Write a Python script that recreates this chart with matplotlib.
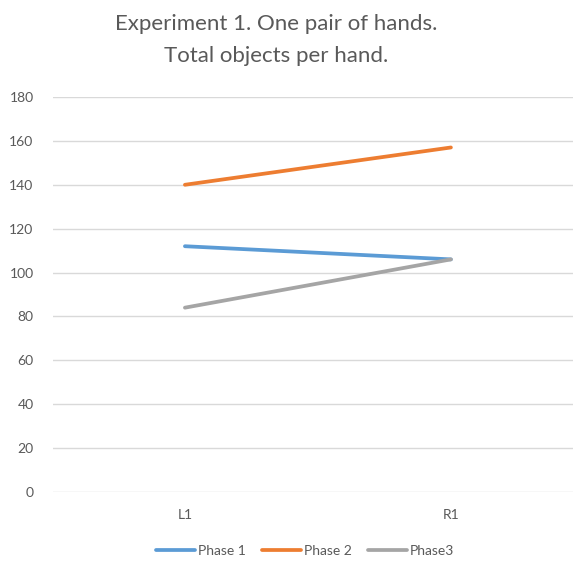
import matplotlib
matplotlib.use('Agg')
import matplotlib.pyplot as plt

categories = ['L1', 'R1']
phase1 = [112, 106]
phase2 = [140, 157]
phase3 = [84, 106]
series_names = ['Phase 1', 'Phase 2', 'Phase3']
yticks = [0, 20, 40, 60, 80, 100, 120, 140, 160, 180]

plt.rcParams['font.family'] = ['Lato', 'DejaVu Sans']
txt = '#595959'

fig = plt.figure(figsize=(5.73, 5.63), dpi=100)
ax = fig.add_axes([53/573, 1-492/563, 520/573, 395/563])

x = range(len(categories))
colors = ['#5B9BD5', '#ED7D31', '#A5A5A5']
for vals, name, c in zip([phase1, phase2, phase3], series_names, colors):
    ax.plot(x, vals, color=c, lw=2.7, label=name, solid_capstyle='round')

ax.set_xlim(-0.496, 1.459)
ax.set_ylim(0, 180)
ax.set_yticks(yticks)
ax.set_xticks(list(x))
ax.set_xticklabels(categories)
ax.grid(axis='y', color='#D9D9D9', lw=1)
ax.set_axisbelow(True)
for s in ax.spines.values():
    s.set_visible(False)
ax.tick_params(length=0, colors=txt, labelsize=10)
ax.tick_params(axis='y', pad=14)
ax.tick_params(axis='x', pad=12)

fig.text(276/573, 1-40/563, 'Experiment 1. One pair of hands.\nTotal objects per hand.',
         ha='center', va='center', fontsize=16, color=txt, linespacing=1.78)

fig.legend(loc='center', bbox_to_anchor=(305/573, 1-551/563), ncol=3, frameon=False,
           fontsize=10, labelcolor=txt, handlelength=2.8, handletextpad=0.2, columnspacing=1.2)

fig.savefig('out.png', dpi=100)
